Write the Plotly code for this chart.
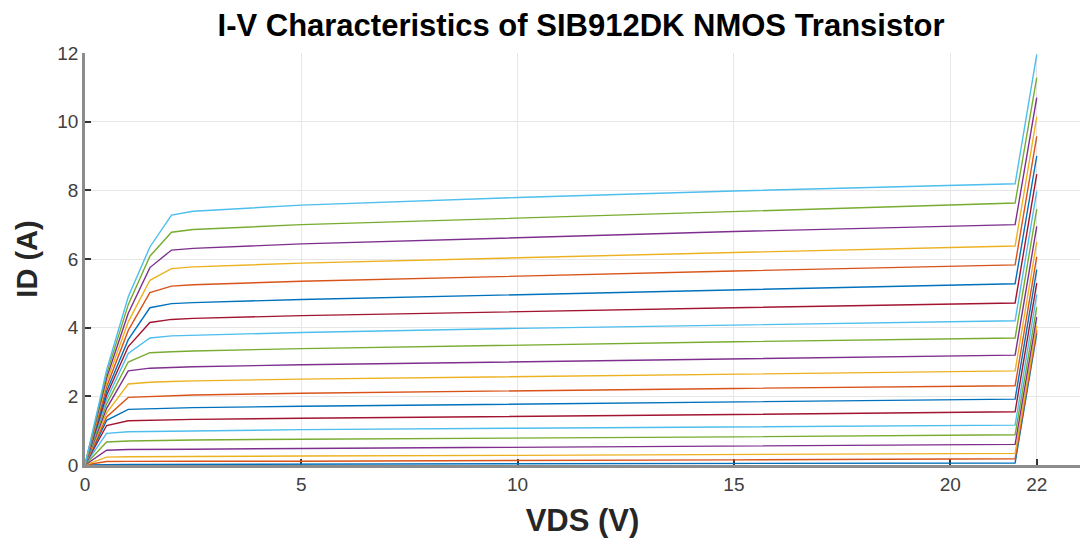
import plotly.graph_objects as go

# VDS sample points (V)
vds = [0, 0.5, 1.0, 1.5, 2.0, 2.5, 5, 10, 15, 21.5, 22]

# ID (A) for each of the 20 curves, bottom to top
id_curves = [
    [0, 0.015, 0.016, 0.017, 0.018, 0.018, 0.02, 0.02, 0.04, 0.06, 3.83],
    [0, 0.10, 0.105, 0.11, 0.11, 0.11, 0.11, 0.12, 0.15, 0.18, 3.93],
    [0, 0.23, 0.24, 0.245, 0.25, 0.25, 0.26, 0.28, 0.31, 0.34, 4.05],
    [0, 0.43, 0.45, 0.45, 0.46, 0.46, 0.48, 0.52, 0.56, 0.60, 4.31],
    [0, 0.67, 0.70, 0.71, 0.72, 0.73, 0.75, 0.78, 0.82, 0.88, 4.60],
    [0, 0.92, 0.97, 0.98, 0.99, 1.00, 1.03, 1.07, 1.11, 1.16, 4.96],
    [0, 1.15, 1.29, 1.31, 1.32, 1.33, 1.36, 1.41, 1.47, 1.55, 5.30],
    [0, 1.30, 1.62, 1.64, 1.65, 1.67, 1.71, 1.77, 1.84, 1.92, 5.69],
    [0, 1.40, 1.97, 2.00, 2.02, 2.04, 2.09, 2.17, 2.23, 2.31, 6.06],
    [0, 1.52, 2.36, 2.41, 2.43, 2.45, 2.50, 2.57, 2.65, 2.74, 6.50],
    [0, 1.65, 2.74, 2.82, 2.84, 2.86, 2.92, 3.01, 3.10, 3.20, 6.95],
    [0, 1.78, 3.00, 3.27, 3.30, 3.32, 3.39, 3.50, 3.59, 3.70, 7.45],
    [0, 1.90, 3.25, 3.70, 3.76, 3.78, 3.86, 3.98, 4.08, 4.20, 7.97],
    [0, 2.03, 3.45, 4.15, 4.24, 4.27, 4.35, 4.47, 4.58, 4.72, 8.47],
    [0, 2.15, 3.65, 4.58, 4.70, 4.73, 4.82, 4.96, 5.10, 5.28, 9.00],
    [0, 2.28, 3.92, 5.02, 5.21, 5.25, 5.35, 5.51, 5.65, 5.83, 9.57],
    [0, 2.41, 4.17, 5.38, 5.72, 5.77, 5.88, 6.04, 6.19, 6.38, 10.14],
    [0, 2.54, 4.42, 5.75, 6.26, 6.31, 6.44, 6.63, 6.80, 7.00, 10.70],
    [0, 2.66, 4.67, 6.08, 6.78, 6.86, 7.00, 7.19, 7.38, 7.63, 11.28],
    [0, 2.77, 4.90, 6.35, 7.28, 7.39, 7.57, 7.79, 7.98, 8.19, 11.95],
]

x_ticks = [0, 5, 10, 15, 20, 22]
y_ticks = [0, 2, 4, 6, 8, 10, 12]

colors = ["#0072BD", "#D95319", "#EDB120", "#7E2F8E", "#77AC30", "#4DBEEE", "#A2142F"]

fig = go.Figure()
for i, ys in enumerate(id_curves):
    fig.add_trace(go.Scatter(
        x=vds, y=ys, mode="lines",
        line=dict(color=colors[i % len(colors)], width=1.4),
        showlegend=False, hoverinfo="skip",
    ))

font_family = "Liberation Sans, Arial, sans-serif"

fig.update_layout(
    width=1082, height=546,
    margin=dict(l=85, r=2, t=53, b=81),
    paper_bgcolor="white", plot_bgcolor="white",
    title=dict(
        text="<b>I-V Characteristics of SIB912DK NMOS Transistor</b>",
        x=0.537, xanchor="center", y=1 - 25 / 546, yanchor="middle", yref="container",
        font=dict(family=font_family, size=31, color="black"),
    ),
    font=dict(family=font_family),
)

fig.update_xaxes(
    range=[0, 23],
    tickvals=x_ticks, ticktext=[str(v) for v in x_ticks],
    ticks="inside", ticklen=6, tickwidth=1.5, tickcolor="#333333",
    showline=True, linecolor="#8c8c8c", linewidth=2.5,
    showgrid=True, gridcolor="#e6e6e6", gridwidth=1,
    zeroline=False, layer="below traces",
    tickfont=dict(size=19, color="#404040"),
    title=dict(text="<b>VDS (V)</b>", font=dict(size=31, color="#262626"), standoff=16),
)
fig.update_yaxes(
    range=[0, 12],
    tickvals=y_ticks, ticktext=[str(v) for v in y_ticks],
    ticks="inside", ticklen=6, tickwidth=1.5, tickcolor="#333333",
    showline=True, linecolor="#8c8c8c", linewidth=2.5,
    showgrid=True, gridcolor="#e6e6e6", gridwidth=1,
    zeroline=False, layer="below traces",
    tickfont=dict(size=19, color="#404040"),
    title=dict(text="<b>ID (A)</b>", font=dict(size=29, color="#262626"), standoff=12),
)

fig.write_html("out.html")
